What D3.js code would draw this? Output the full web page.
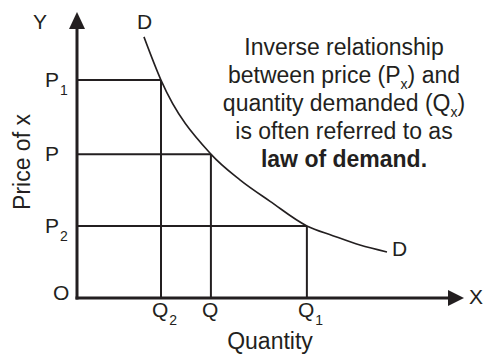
<!DOCTYPE html>
<html>
<head>
<meta charset="utf-8">
<script src="https://cdn.jsdelivr.net/npm/d3@7"></script>
<style>
  body { margin: 0; background: #fff; }
  svg { display: block; font-family: "Liberation Sans", Arial, sans-serif; }
  text { fill: #231f20; }
</style>
</head>
<body>
<svg id="chart" width="484" height="358"></svg>
<script>
// demand curve D (quantity %, price %)
var curveQ = [17.3, 21.7, 34.6, 42.1, 49.9, 59.4, 66.1, 73.1, 80.1];
var curveP = [91.3, 76.2, 50.3, 41.3, 33.8, 25.2, 21.8, 18.5, 16.1];

// the three marked price/quantity pairs
var priceNames = ["P", "P", "P"];
var priceSubs = ["1", "", "2"];
var priceValues = [76.2, 50.3, 25.2];
var qtyNames = ["Q", "Q", "Q"];
var qtySubs = ["2", "", "1"];
var qtyValues = [21.7, 34.6, 59.4];

var noteLines = [
    [{t: "Inverse relationship"}],
    [{t: "between price (P"}, {t: "x", sub: true}, {t: ") and"}],
    [{t: "quantity demanded (Q"}, {t: "x", sub: true}, {t: ")"}],
    [{t: "is often referred to as"}],
    [{t: "law of demand.", bold: true}]
];

var svg = d3.select("#chart");
var ink = "#231f20";

var x = d3.scaleLinear().domain([0, 100]).range([77, 464]);
var y = d3.scaleLinear().domain([0, 100]).range([298, 12]);

// drop lines
var drops = svg.append("g").attr("stroke", ink).attr("stroke-width", 2);
priceValues.forEach(function(p, i) {
    drops.append("line")
        .attr("x1", x(0)).attr("x2", x(qtyValues[i]))
        .attr("y1", y(p)).attr("y2", y(p));
    drops.append("line")
        .attr("x1", x(qtyValues[i])).attr("x2", x(qtyValues[i]))
        .attr("y1", y(p)).attr("y2", y(0));
});

// curve
var pts = curveQ.map(function(q, i){ return [q, curveP[i]]; });
svg.append("path")
    .attr("d", d3.line()
        .x(function(d){ return x(d[0]); })
        .y(function(d){ return y(d[1]); })
        .curve(d3.curveMonotoneX)(pts))
    .attr("fill", "none")
    .attr("stroke", ink)
    .attr("stroke-width", 1.6);

// axes with arrow heads
svg.append("line")
    .attr("x1", x(0)).attr("x2", x(0))
    .attr("y1", y(0) + 1.5).attr("y2", y(100) + 14)
    .attr("stroke", ink).attr("stroke-width", 3);
svg.append("line")
    .attr("x1", x(0) - 1.5).attr("x2", x(100) - 14)
    .attr("y1", y(0)).attr("y2", y(0))
    .attr("stroke", ink).attr("stroke-width", 3);
svg.append("path")
    .attr("d", "M" + x(0) + "," + y(100) + "l8,17h-16z")
    .attr("fill", ink);
svg.append("path")
    .attr("d", "M" + x(100) + "," + y(0) + "l-16,-8v16z")
    .attr("fill", ink);

// labels with subscripts
function subLabel(g, px, py, name, sub) {
    var t = g.append("text").attr("x", px).attr("y", py)
        .attr("font-size", 21).text(name);
    if (sub) {
        t.append("tspan").attr("dy", 8).attr("dx", 1).attr("font-size", 14).text(sub);
    }
}
var lab = svg.append("g");
priceValues.forEach(function(p, i) {
    subLabel(lab, 45, y(p) + 7, priceNames[i], priceSubs[i]);
});
qtyValues.forEach(function(q, i) {
    subLabel(lab, x(q) - 9, 317, qtyNames[i], qtySubs[i]);
});

subLabel(lab, 33, 29, "Y");
subLabel(lab, 137, 29, "D");
subLabel(lab, 53, 300, "O");
subLabel(lab, 469, 304, "X");
subLabel(lab, 392, 256, "D");

lab.append("text")
    .attr("x", 270).attr("y", 349)
    .attr("text-anchor", "middle")
    .attr("font-size", 23)
    .text("Quantity");
lab.append("text")
    .attr("transform", "translate(30,162) rotate(-90)")
    .attr("text-anchor", "middle")
    .attr("font-size", 23)
    .text("Price of x");

// note
var note = svg.append("g");
noteLines.forEach(function(parts, i) {
    var t = note.append("text")
        .attr("x", 344).attr("y", 55 + i * 28)
        .attr("text-anchor", "middle")
        .attr("font-size", 23);
    parts.forEach(function(p, k) {
        var s = t.append("tspan").text(p.t);
        if (p.sub) s.attr("font-size", 14).attr("dy", 6);
        else if (k > 0 && parts[k - 1].sub) s.attr("dy", -6);
        if (p.bold) s.attr("font-weight", "bold");
    });
});
</script>
</body>
</html>
